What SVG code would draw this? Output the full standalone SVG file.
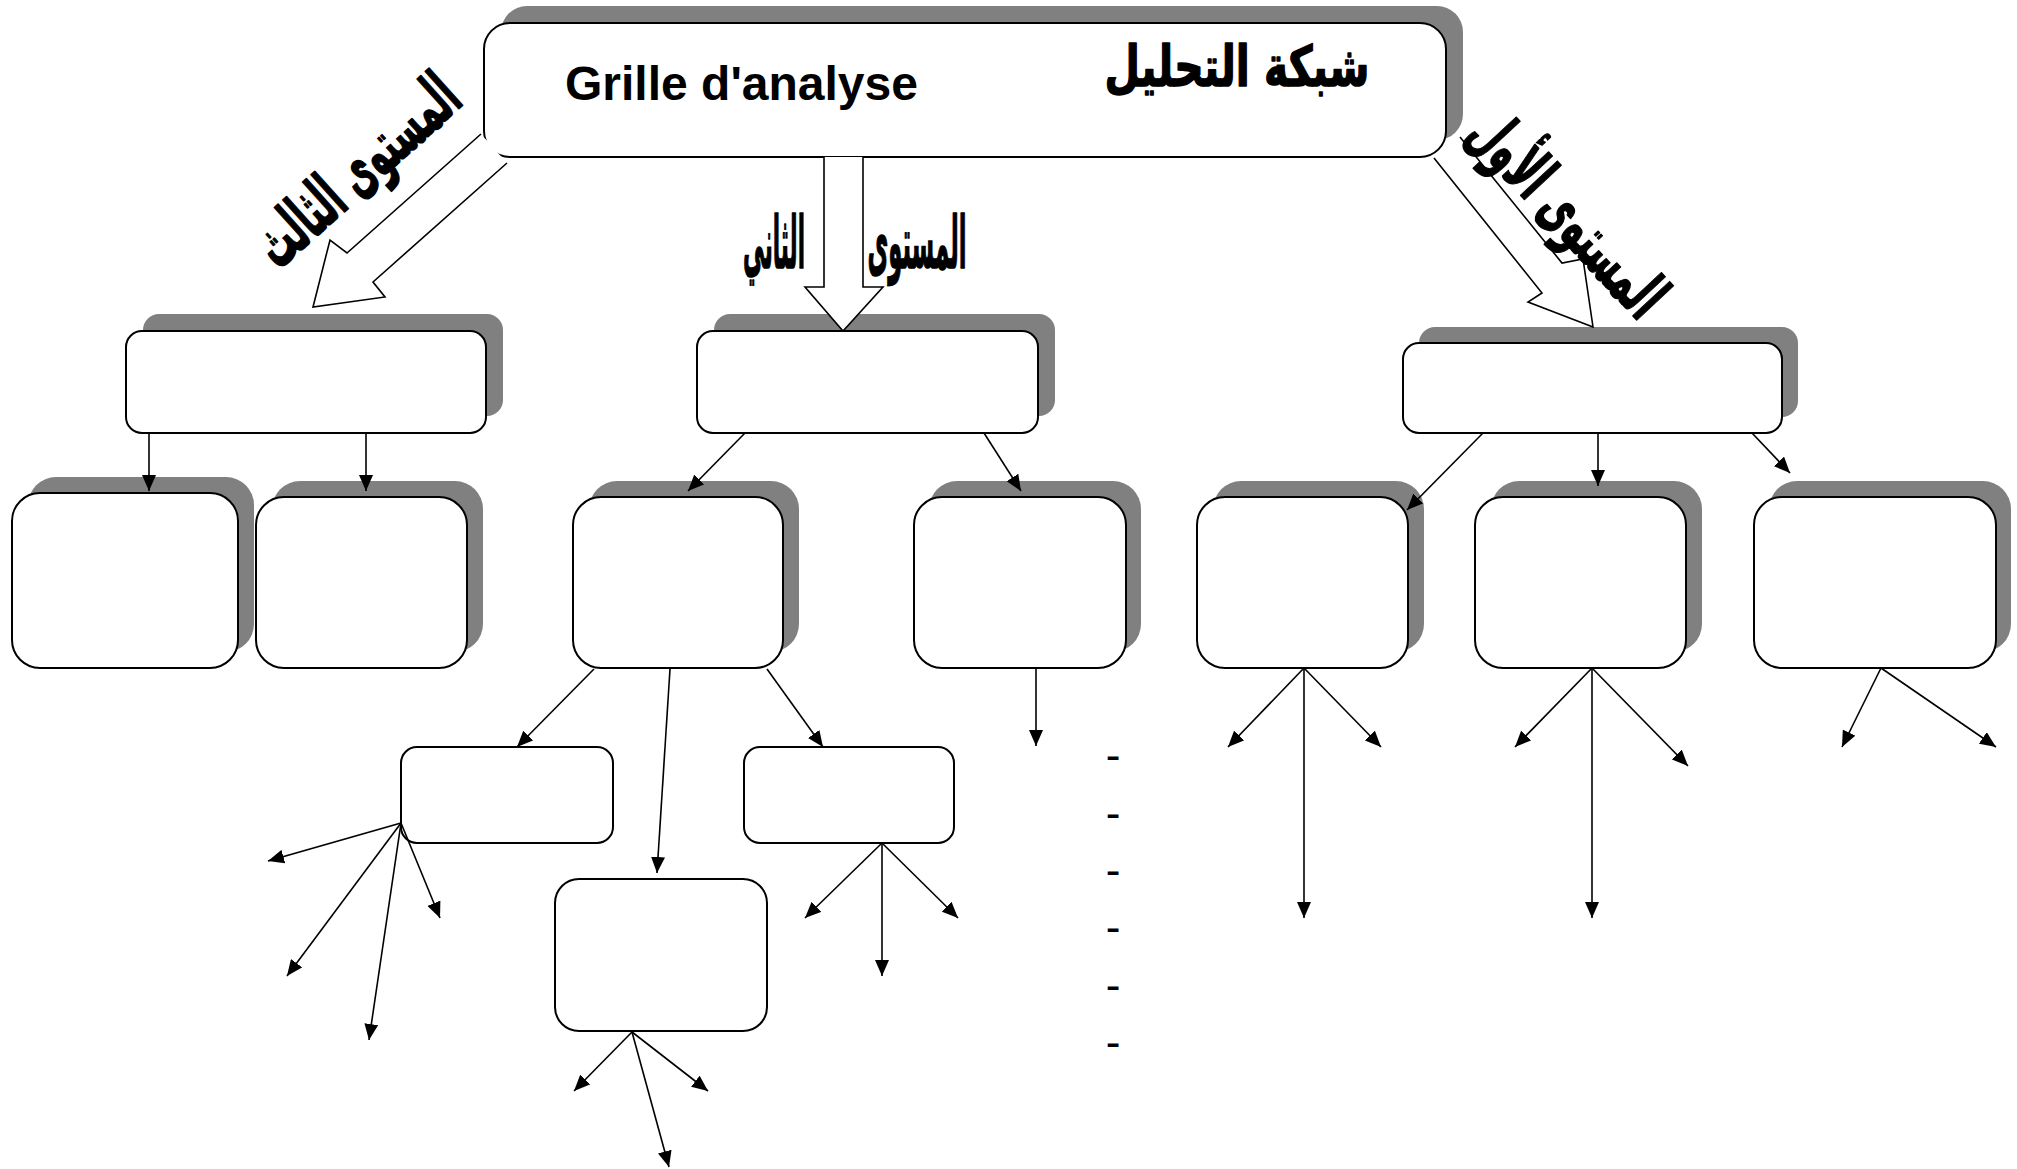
<svg xmlns="http://www.w3.org/2000/svg" width="2017" height="1169" viewBox="0 0 2017 1169">
<style>
.sh{fill:#808080}
.bx{fill:#fff;stroke:#000;stroke-width:2}
.cn{stroke:#000;stroke-width:1.6;fill:none;marker-end:url(#ah)}
.blk{fill:#fff;stroke:#000;stroke-width:1.6;stroke-linejoin:miter}
.ar{font-family:"DejaVu Sans",sans-serif;font-weight:bold;fill:#000;stroke:#000;stroke-width:1.5;stroke-linejoin:round}
.lat{font-family:"Liberation Sans",Arial,sans-serif;font-weight:bold;fill:#000}
.dash{font-family:"Liberation Sans",Arial,sans-serif;font-size:44px;fill:#000}
</style>
<defs>
<marker id="ah" viewBox="0 0 16 14" refX="16" refY="7" markerWidth="16" markerHeight="14" markerUnits="userSpaceOnUse" orient="auto">
<path d="M0,0 L16,7 L0,14 z" fill="#000"/>
</marker>
</defs>
<rect width="2017" height="1169" fill="#fff"/>

<g id="main">
<rect class="sh" x="501" y="6" width="962" height="134" rx="26"/>
<rect class="bx" x="484" y="23" width="962" height="134" rx="26"/>
<text class="lat" x="565" y="100" font-size="48">Grille d'analyse</text>
<text class="ar" x="1237" y="86" font-size="56" text-anchor="middle" textLength="265" lengthAdjust="spacingAndGlyphs">شبكة التحليل</text>
</g>

<g id="L">
<rect class="sh" x="143" y="314" width="360" height="102" rx="16"/>
<rect class="bx" x="126" y="331" width="360" height="102" rx="16"/>
</g>
<g id="M">
<rect class="sh" x="714" y="314" width="341" height="102" rx="16"/>
<rect class="bx" x="697" y="331" width="341" height="102" rx="16"/>
</g>
<g id="R">
<rect class="sh" x="1419" y="327" width="379" height="90" rx="16"/>
<rect class="bx" x="1403" y="343" width="379" height="90" rx="16"/>
</g>

<g id="L1">
<rect class="sh" x="28" y="477" width="226" height="175" rx="28"/>
<rect class="bx" x="12" y="493" width="226" height="175" rx="28"/>
</g>
<g id="L2">
<rect class="sh" x="272" y="481" width="211" height="171" rx="28"/>
<rect class="bx" x="256" y="497" width="211" height="171" rx="28"/>
</g>
<g id="M1">
<rect class="sh" x="589" y="481" width="210" height="171" rx="28"/>
<rect class="bx" x="573" y="497" width="210" height="171" rx="28"/>
</g>
<g id="M2">
<rect class="sh" x="929" y="481" width="212" height="171" rx="28"/>
<rect class="bx" x="914" y="497" width="212" height="171" rx="28"/>
</g>
<g id="R1">
<rect class="sh" x="1213" y="481" width="211" height="171" rx="28"/>
<rect class="bx" x="1197" y="497" width="211" height="171" rx="28"/>
</g>
<g id="R2">
<rect class="sh" x="1491" y="481" width="211" height="171" rx="28"/>
<rect class="bx" x="1475" y="497" width="211" height="171" rx="28"/>
</g>
<g id="R3">
<rect class="sh" x="1769" y="481" width="242" height="171" rx="28"/>
<rect class="bx" x="1754" y="497" width="242" height="171" rx="28"/>
</g>

<g id="M3"><rect class="bx" x="401" y="747" width="212" height="96" rx="16"/></g>
<g id="M4"><rect class="bx" x="744" y="747" width="210" height="96" rx="16"/></g>
<g id="M5"><rect class="bx" x="555" y="879" width="212" height="152" rx="24"/></g>

<g id="level-arrows">
<path class="blk" d="M481,134 L347,253 L330,240 L313,307 L385,297 L373,282 L507,163"/>
<path class="blk" d="M824,157 L824,287 L805,287 L843,331 L883,287 L863,287 L863,157"/>
<path class="blk" d="M1460,137 L1562,263 L1583,259 L1593,327 L1528,302 L1542,293 L1434,158"/>
</g>

<g id="labels">
<text class="ar" font-size="66" text-anchor="middle" textLength="250" lengthAdjust="spacingAndGlyphs" transform="translate(372,187) rotate(-42)">المستوى الثالث</text>
<text class="ar" x="917" y="268" font-size="72" text-anchor="middle" textLength="99" lengthAdjust="spacingAndGlyphs">المستوى</text>
<text class="ar" x="774" y="268" font-size="72" text-anchor="middle" textLength="62" lengthAdjust="spacingAndGlyphs">الثاني</text>
<text class="ar" font-size="66" text-anchor="middle" textLength="255" lengthAdjust="spacingAndGlyphs" transform="translate(1552,229) rotate(47)">المستوى الأول</text>
</g>

<g id="connectors">
<line class="cn" x1="149" y1="433" x2="149" y2="491"/>
<line class="cn" x1="366" y1="433" x2="366" y2="491"/>
<line class="cn" x1="745" y1="433" x2="688" y2="491"/>
<line class="cn" x1="984" y1="433" x2="1021" y2="491"/>
<line class="cn" x1="1483" y1="433" x2="1407" y2="510"/>
<line class="cn" x1="1598" y1="433" x2="1598" y2="486"/>
<line class="cn" x1="1752" y1="433" x2="1790" y2="473"/>
<line class="cn" x1="594" y1="669" x2="517" y2="747"/>
<line class="cn" x1="670" y1="669" x2="657" y2="873"/>
<line class="cn" x1="767" y1="669" x2="823" y2="747"/>
<line class="cn" x1="1036" y1="668" x2="1036" y2="746"/>
<line class="cn" x1="401" y1="823" x2="268" y2="861"/>
<line class="cn" x1="401" y1="823" x2="287" y2="976"/>
<line class="cn" x1="401" y1="823" x2="369" y2="1040"/>
<line class="cn" x1="401" y1="823" x2="440" y2="918"/>
<line class="cn" x1="882" y1="843" x2="805" y2="918"/>
<line class="cn" x1="882" y1="843" x2="882" y2="976"/>
<line class="cn" x1="882" y1="843" x2="958" y2="918"/>
<line class="cn" x1="632" y1="1032" x2="574" y2="1091"/>
<line class="cn" x1="632" y1="1032" x2="708" y2="1091"/>
<line class="cn" x1="632" y1="1032" x2="669" y2="1167"/>
<line class="cn" x1="1304" y1="668" x2="1228" y2="747"/>
<line class="cn" x1="1304" y1="668" x2="1381" y2="747"/>
<line class="cn" x1="1304" y1="668" x2="1304" y2="918"/>
<line class="cn" x1="1592" y1="668" x2="1515" y2="747"/>
<line class="cn" x1="1592" y1="668" x2="1688" y2="766"/>
<line class="cn" x1="1592" y1="668" x2="1592" y2="918"/>
<line class="cn" x1="1881" y1="668" x2="1842" y2="747"/>
<line class="cn" x1="1881" y1="668" x2="1996" y2="747"/>
</g>

<g id="dashes">
<text class="dash" x="1113" y="770" text-anchor="middle">-</text>
<text class="dash" x="1113" y="828" text-anchor="middle">-</text>
<text class="dash" x="1113" y="885" text-anchor="middle">-</text>
<text class="dash" x="1113" y="942" text-anchor="middle">-</text>
<text class="dash" x="1113" y="1000" text-anchor="middle">-</text>
<text class="dash" x="1113" y="1057" text-anchor="middle">-</text>
</g>
</svg>
